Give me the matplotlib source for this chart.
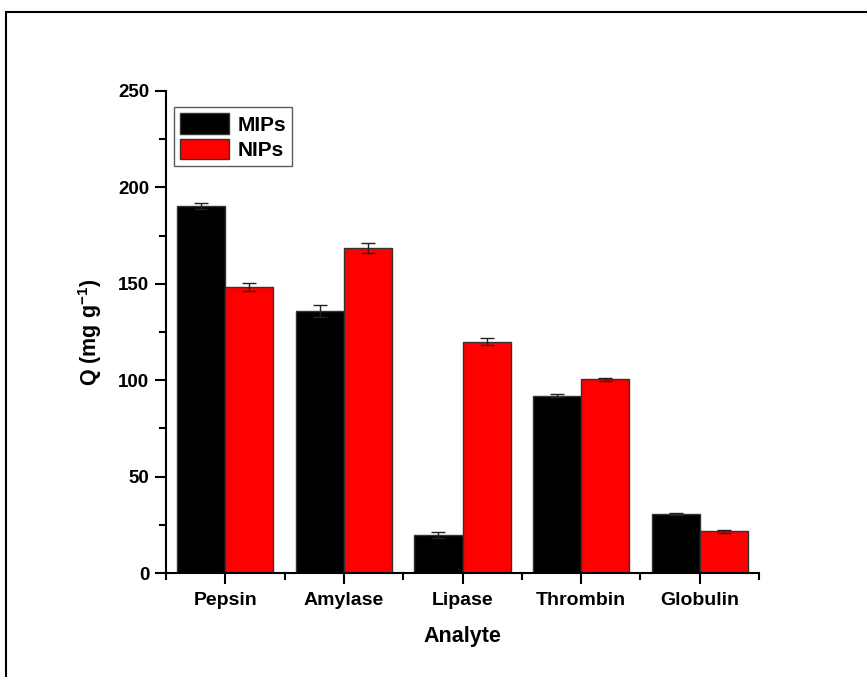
import matplotlib
matplotlib.use("Agg")
import matplotlib.pyplot as plt
from matplotlib.patches import Rectangle
from matplotlib.ticker import MultipleLocator
import numpy as np

plt.rcParams['font.family'] = ['Liberation Sans', 'DejaVu Sans']
plt.rcParams['font.weight'] = 'bold'
plt.rcParams['mathtext.fontset'] = 'custom'
plt.rcParams['mathtext.rm'] = 'Liberation Sans:bold'
plt.rcParams['mathtext.bf'] = 'Liberation Sans:bold'
plt.rcParams['mathtext.default'] = 'bf'

analytes = ["Pepsin", "Amylase", "Lipase", "Thrombin", "Globulin"]
mips = [190.5, 136.0, 19.8, 92.0, 30.4]
mips_err = [1.5, 3.0, 1.4, 0.6, 0.5]
nips = [148.3, 168.8, 120.0, 100.4, 21.6]
nips_err = [2.0, 2.6, 1.8, 0.8, 0.6]

fig = plt.figure(figsize=(8.67, 6.77), dpi=100)
ax = fig.add_axes([0.1915, 0.1536, 0.6839, 0.712])

# frame around the figure
fig.patches.append(Rectangle((0.0065, -0.05), 1.1, 1.032, transform=fig.transFigure,
                             fill=False, edgecolor='black', linewidth=1.5))

x = np.arange(1, len(analytes) + 1)
w = 0.405
err_kw = dict(ecolor='#222222', elinewidth=1.0, capsize=5, capthick=1.0)
ax.bar(x - w / 2, mips, w, yerr=mips_err, color='black', edgecolor='#333333',
       linewidth=1.0, label='MIPs', error_kw=err_kw)
ax.bar(x + w / 2, nips, w, yerr=nips_err, color='#ff0000', edgecolor='#333333',
       linewidth=1.0, label='NIPs', error_kw=err_kw)

ax.set_xlim(0.5, 5.5)
ax.set_ylim(0, 250)
ax.set_xticks(x)
ax.set_xticklabels(analytes)
ax.set_xticks(np.arange(0.5, 5.6, 1.0), minor=True)
ax.yaxis.set_major_locator(MultipleLocator(50))
ax.yaxis.set_minor_locator(MultipleLocator(25))

for s in ['top', 'right']:
    ax.spines[s].set_visible(False)
for s in ['left', 'bottom']:
    ax.spines[s].set_linewidth(1.5)

ax.tick_params(axis='both', which='major', direction='out', length=8, width=1.5,
               labelsize=13.5, pad=4)
ax.tick_params(axis='x', which='major', labelsize=14, pad=6)
ax.tick_params(axis='both', which='minor', direction='out', length=5, width=1.5)
for lab in ax.get_xticklabels() + ax.get_yticklabels():
    lab.set_fontweight('bold')

ax.set_xlabel('Analyte', fontsize=15.5, fontweight='bold', labelpad=12)
ax.set_ylabel('Q (mg g$^{-1}$)', fontsize=15.5, fontweight='bold', labelpad=10)

leg = ax.legend(loc='upper left', bbox_to_anchor=(0.0135, 0.967),
                prop={'weight': 'bold', 'size': 15}, frameon=True, fancybox=False,
                edgecolor='#333333', handlelength=2.35, handleheight=1.15,
                handletextpad=0.4, borderpad=0.3, labelspacing=0.2, borderaxespad=0)
leg.get_frame().set_linewidth(1.0)

fig.savefig('out.png', dpi=100, facecolor='white')
